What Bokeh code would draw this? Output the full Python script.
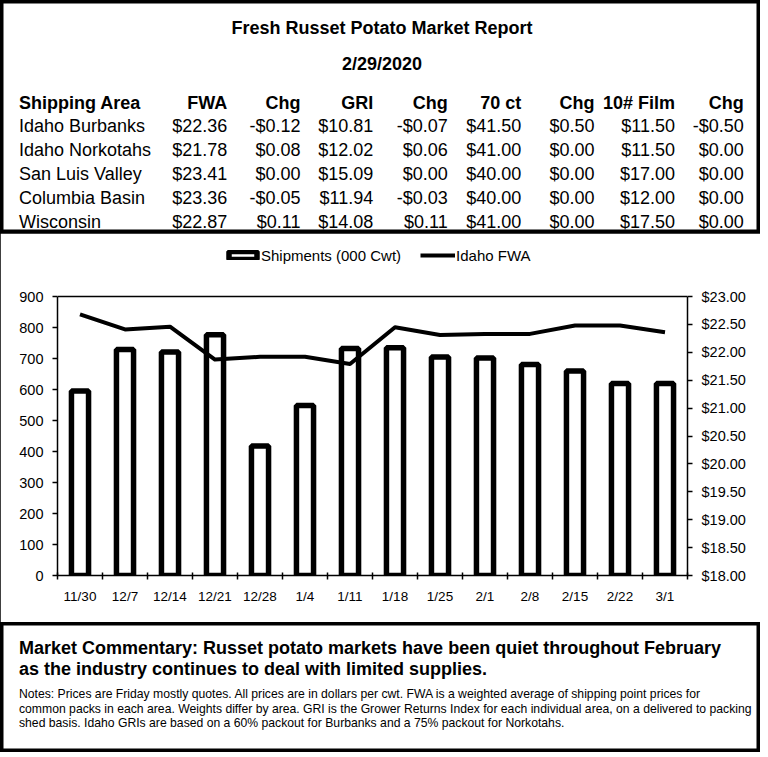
from bokeh.plotting import figure
from bokeh.layouts import column, row
from bokeh.models import (Range1d, LinearAxis, FixedTicker, NumeralTickFormatter,
                          Legend, LegendItem, ColumnDataSource, Span)
from bokeh.core.properties import value
from bokeh.embed import file_html
from bokeh.resources import INLINE

FONT = value("Liberation Sans")

# ---------------- data ----------------
report_title = "Fresh Russet Potato Market Report"
report_date = "2/29/2020"

header = ["Shipping Area", "FWA", "Chg", "GRI", "Chg", "70 ct", "Chg", "10# Film", "Chg"]
areas = ["Idaho Burbanks", "Idaho Norkotahs", "San Luis Valley", "Columbia Basin", "Wisconsin"]
fwa = [22.36, 21.78, 23.41, 23.36, 22.87]
fwa_chg = [-0.12, 0.08, 0.00, -0.05, 0.11]
gri = [10.81, 12.02, 15.09, 11.94, 14.08]
gri_chg = [-0.07, 0.06, 0.00, -0.03, 0.11]
ct70 = [41.50, 41.00, 40.00, 40.00, 41.00]
ct70_chg = [0.50, 0.00, 0.00, 0.00, 0.00]
film10 = [11.50, 11.50, 17.00, 12.00, 17.50]
film10_chg = [-0.50, 0.00, 0.00, 0.00, 0.00]

weeks = ["11/30", "12/7", "12/14", "12/21", "12/28", "1/4", "1/11", "1/18",
         "1/25", "2/1", "2/8", "2/15", "2/22", "3/1"]
shipments = [595, 729, 721, 777, 418, 548, 732, 735, 705, 702, 681, 660, 619, 619]
idaho_fwa = [22.68, 22.41, 22.46, 21.87, 21.92, 21.92, 21.79, 22.45, 22.31, 22.33,
             22.33, 22.48, 22.48, 22.36]

ship_ticks = [0, 100, 200, 300, 400, 500, 600, 700, 800, 900]
price_ticks = [18.0, 18.5, 19.0, 19.5, 20.0, 20.5, 21.0, 21.5, 22.0, 22.5, 23.0]

commentary = ["Market Commentary: Russet potato markets have been quiet throughout February",
              "as the industry continues to deal with limited supplies."]
notes = ["Notes: Prices are Friday mostly quotes. All prices are in dollars per cwt. FWA is a weighted average of shipping point prices for",
         "common packs in each area. Weights differ by area. GRI is the Grower Returns Index for each individual area, on a delivered to packing",
         "shed basis. Idaho GRIs are based on a 60% packout for Burbanks and a 75% packout for Norkotahs."]


def money(v):
    return ("-$%.2f" % abs(v)) if v < 0 else ("$%.2f" % v)


W = 760

# ---------------- top: title + table ----------------
top = figure(width=W, height=233, x_range=Range1d(0, W), y_range=Range1d(233, 0),
             output_backend="svg", toolbar_location=None, min_border=0,
             x_axis_location=None, y_axis_location=None)
top.grid.visible = False
top.outline_line_color = "black"
top.outline_line_width = 6
top.background_fill_color = "white"

top.text(x=[381.5, 381.5], y=[27, 63.5], text=[report_title, report_date],
         text_font=FONT, text_font_size="18px", text_font_style="bold",
         text_align="center", text_baseline="middle", text_color="black")

col_right = [226.7, 300, 372.7, 447.3, 520.7, 594, 674.5, 743.3]
header_y = 102
row_y = [125.5, 149.7, 173.7, 197.5, 221]

top.text(x=[18.5], y=[header_y], text=[header[0]], text_font=FONT, text_font_size="18px",
         text_font_style="bold", text_align="left", text_baseline="middle", text_color="black")
top.text(x=col_right, y=[header_y] * 8, text=header[1:], text_font=FONT, text_font_size="18px",
         text_font_style="bold", text_align="right", text_baseline="middle", text_color="black")

top.text(x=[18.5] * len(areas), y=row_y, text=areas, text_font=FONT, text_font_size="18px",
         text_align="left", text_baseline="middle", text_color="black")
cols = [fwa, fwa_chg, gri, gri_chg, ct70, ct70_chg, film10, film10_chg]
cx, cy, ct = [], [], []
for xr, colvals in zip(col_right, cols):
    for yy, v in zip(row_y, colvals):
        cx.append(xr)
        cy.append(yy)
        ct.append(money(v))
top.text(x=cx, y=cy, text=ct, text_font=FONT, text_font_size="18px",
         text_align="right", text_baseline="middle", text_color="black")

# ---------------- middle: chart ----------------
# frame spans the legend strip too; the plot area proper is 279 px tall
CH, TOPB, BOTB, PLOT_H = 389, 5, 47, 279
FRAME_H = CH - TOPB - BOTB
y_max = ship_ticks[-1] * FRAME_H / PLOT_H
p_lo, p_hi = price_ticks[0], price_ticks[-1]
p_max = p_lo + (p_hi - p_lo) * FRAME_H / PLOT_H

idx = list(range(len(weeks)))
src = ColumnDataSource(dict(x=idx, ship=shipments, fwa=idaho_fwa))

p = figure(width=W, height=CH, x_range=Range1d(-0.5, len(weeks) - 0.5),
           y_range=Range1d(0, y_max), output_backend="svg", toolbar_location=None,
           min_border_left=57, min_border_right=73, min_border_top=TOPB, min_border_bottom=BOTB,
           x_axis_location=None, y_axis_location=None,
           styles={"outline": "2px solid black", "outline-offset": "-2px"})
p.extra_y_ranges = {"fwa": Range1d(p_lo, p_max)}
p.grid.visible = False
p.outline_line_color = None
p.background_fill_color = "white"
p.border_fill_color = "white"

p.add_layout(Span(location=ship_ticks[-1], dimension="width", line_color="black",
                  line_width=1.5))

bars = p.vbar(x="x", top="ship", width=0.38, source=src, fill_color="white",
              line_color="black", line_width=5.5)
line = p.line(x="x", y="fwa", source=src, y_range_name="fwa", line_color="black",
              line_width=4, line_join="round")

xax = LinearAxis(ticker=FixedTicker(ticks=idx, minor_ticks=[i - 0.5 for i in range(len(weeks) + 1)]),
                 major_label_overrides={i: w for i, w in enumerate(weeks)})
xax.major_tick_line_color = None
xax.major_tick_in = 0
xax.major_tick_out = 0
xax.minor_tick_in = 3
xax.minor_tick_out = 4
xax.minor_tick_line_color = "black"
xax.minor_tick_line_width = 1.5
xax.axis_line_width = 1.5
xax.major_label_standoff = 9
xax.major_label_text_font = "Liberation Sans"
xax.major_label_text_font_size = "13.5px"
xax.major_label_text_color = "black"
p.add_layout(xax, "below")

yax = LinearAxis(ticker=FixedTicker(ticks=ship_ticks), bounds=(ship_ticks[0], ship_ticks[-1]))
yax.major_tick_in = 0
yax.major_tick_out = 5
yax.minor_tick_line_color = None
yax.axis_line_width = 1.5
yax.major_tick_line_width = 1.5
yax.major_label_standoff = 9
yax.major_label_text_font = "Liberation Sans"
yax.major_label_text_font_size = "14.5px"
yax.major_label_text_color = "black"
p.add_layout(yax, "left")

rax = LinearAxis(y_range_name="fwa", ticker=FixedTicker(ticks=price_ticks),
                 bounds=(p_lo, p_hi), formatter=NumeralTickFormatter(format="$0.00"))
rax.major_tick_in = 0
rax.major_tick_out = 5
rax.minor_tick_line_color = None
rax.axis_line_width = 1.5
rax.major_tick_line_width = 1.5
rax.major_label_standoff = 9
rax.major_label_text_font = "Liberation Sans"
rax.major_label_text_font_size = "14.5px"
rax.major_label_text_color = "black"
p.add_layout(rax, "right")

legend = Legend(items=[LegendItem(label="Shipments (000 Cwt)", renderers=[bars]),
                       LegendItem(label="Idaho FWA", renderers=[line])],
                orientation="horizontal", location=(168, 310),
                glyph_width=35, glyph_height=10, label_standoff=1, spacing=19,
                padding=0, margin=0, border_line_color=None, background_fill_alpha=0,
                label_text_font="Liberation Sans", label_text_font_size="15px",
                label_text_color="black", label_height=20)
p.add_layout(legend, "center")

# ---------------- bottom: commentary ----------------
bot = figure(width=W, height=130, x_range=Range1d(0, W), y_range=Range1d(752, 622),
             output_backend="svg", toolbar_location=None, min_border=0,
             x_axis_location=None, y_axis_location=None)
bot.grid.visible = False
bot.outline_line_color = "black"
bot.outline_line_width = 6
bot.background_fill_color = "white"

bot.text(x=[18.5, 18.5], y=[647.7, 668], text=commentary, text_font=FONT,
         text_font_size="18px", text_font_style="bold", text_align="left",
         text_baseline="middle", text_color="black")
bot.text(x=[18.5] * 3, y=[693, 708, 722.5], text=notes, text_font=FONT,
         text_font_size="12.2px", text_align="left", text_baseline="middle",
         text_color="black")

layout = column(row(top), p, row(bot), spacing=0)
open("out.html", "w").write(file_html(layout, INLINE))
